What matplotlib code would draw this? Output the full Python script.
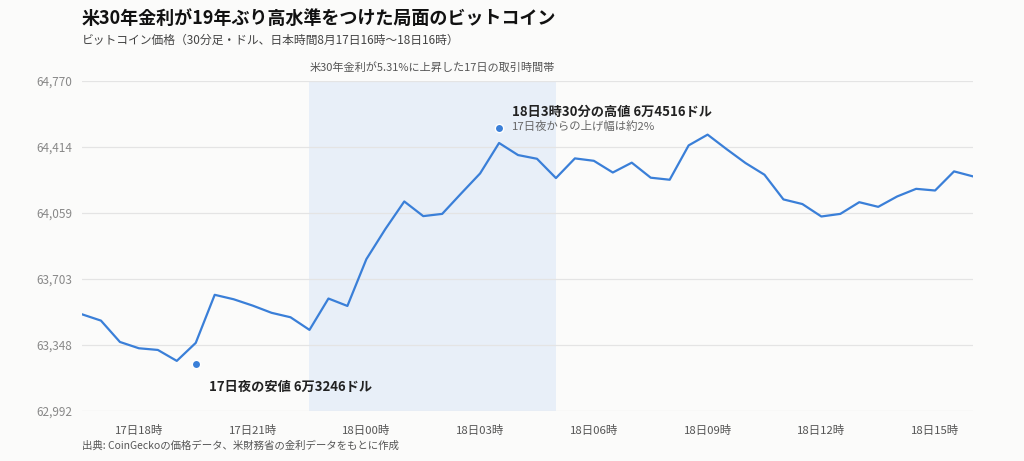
import numpy as np
import matplotlib
matplotlib.use("Agg")
import matplotlib.pyplot as plt

plt.rcParams['font.family'] = ['Noto Sans CJK JP', 'DejaVu Sans']

# 30-minute prices, 17日16:30 -> 18日16:00 (JST)
prices = [63513, 63479, 63364, 63330, 63321, 63262, 63359, 63618, 63594, 63560,
          63521, 63497, 63429, 63598, 63558, 63810, 63972, 64121, 64042, 64054,
          64164, 64272, 64436, 64371, 64351, 64247, 64353, 64340, 64277, 64330,
          64249, 64238, 64423, 64481, 64403, 64328, 64265, 64132, 64107, 64040,
          64054, 64117, 64092, 64148, 64189, 64180, 64283, 64256]
tick_idx = [3, 9, 15, 21, 27, 33, 39, 45]
tick_labels = ["17日18時", "17日21時", "18日00時", "18日03時",
               "18日06時", "18日09時", "18日12時", "18日15時"]
y_ticks = [62992, 63348, 63703, 64059, 64414, 64770]
shade_start = 12
shade_end = 25
low_idx, low_val = 6, 63246
high_idx, high_val = 22, 64516

bg = "#fbfbfa"
line_color = "#3a7fd8"

fig = plt.figure(figsize=(10.24, 4.61), dpi=100, facecolor=bg)
ax = fig.add_axes([82/1024, 1-411/461, (973-82)/1024, 330/461], facecolor=bg)

x = np.arange(len(prices))
ax.axvspan(shade_start, shade_end, ymin=0, ymax=1, color="#e8eff8", zorder=0, lw=0)
for yt in y_ticks:
    ax.axhline(yt, color="#e4e4e4", lw=0.9, zorder=1)
ax.plot(x, prices, color=line_color, lw=1.6, zorder=3)

ax.scatter([low_idx, high_idx], [low_val, high_val], s=36, color=line_color,
           edgecolor="white", linewidth=1.0, zorder=4)

ax.set_xlim(0, len(prices) - 1)
ax.set_ylim(y_ticks[0], y_ticks[-1])
ax.set_yticks(y_ticks)
ax.set_yticklabels([f"{v:,}" for v in y_ticks], fontsize=8.5, color="#888888")
ax.set_xticks(tick_idx)
ax.set_xticklabels(tick_labels, fontsize=8.2, color="#555555")
ax.tick_params(axis="x", length=0, pad=10)
ax.tick_params(axis="y", length=0, pad=7)
for s in ax.spines.values():
    s.set_visible(False)

# annotations
ax.text(high_idx + 0.7, 64605, "18日3時30分の高値 6万4516ドル", fontsize=9.5,
        fontweight="bold", color="#222222", va="center", ha="left")
ax.text(high_idx + 0.7, 64525, "17日夜からの上げ幅は約2%", fontsize=8.2,
        color="#666666", va="center", ha="left")
ax.text(low_idx + 0.7, 63122, "17日夜の安値 6万3246ドル", fontsize=9.5,
        fontweight="bold", color="#222222", va="center", ha="left")
ax.text((shade_start + shade_end) / 2, 64842, "米30年金利が5.31%に上昇した17日の取引時間帯",
        fontsize=8, color="#555555", ha="center", va="center", clip_on=False)

fig.text(82/1024, 1-18/461, "米30年金利が19年ぶり高水準をつけた局面のビットコイン",
         fontsize=13, fontweight="bold", color="#111111", va="center")
fig.text(82/1024, 1-40/461, "ビットコイン価格（30分足・ドル、日本時間8月17日16時～18日16時）",
         fontsize=8.5, color="#444444", va="center")
fig.text(82/1024, 1-446/461, "出典: CoinGeckoの価格データ、米財務省の金利データをもとに作成",
         fontsize=7.5, color="#555555", va="center")

fig.savefig("out.png", dpi=100, facecolor=bg)
